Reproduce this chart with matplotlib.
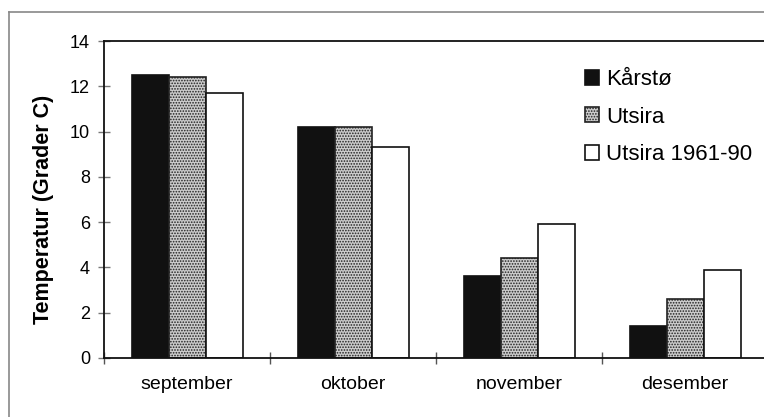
import matplotlib
matplotlib.use("Agg")
import matplotlib.pyplot as plt
from matplotlib.lines import Line2D
from matplotlib.patches import Patch
import numpy as np

plt.rcParams['font.family'] = ['Liberation Sans', 'DejaVu Sans']
plt.rcParams['hatch.linewidth'] = 0.8

categories = ["september", "oktober", "november", "desember"]
series_names = ["Kårstø", "Utsira", "Utsira 1961-90"]
karsto = [12.5, 10.2, 3.6, 1.4]
utsira = [12.4, 10.2, 4.4, 2.6]
utsira_norm = [11.7, 9.3, 5.9, 3.9]
yticks = [0, 2, 4, 6, 8, 10, 12, 14]

W, H = 764, 417
fig = plt.figure(figsize=(W / 100, H / 100), dpi=100)
ax = fig.add_axes([104 / W, (H - 358) / H, 664 / W, 317 / H])

offset = 28 / 166
bw = 37 / 166
styles = [
    dict(facecolor="#111111", edgecolor="#111111", hatch=None),
    dict(facecolor="#cccccc", edgecolor="#222222", hatch="......"),
    dict(facecolor="white", edgecolor="#111111", hatch=None),
]
data = [karsto, utsira, utsira_norm]
x0 = np.arange(len(categories))
for j, (vals, st) in enumerate(zip(data, styles)):
    xs = x0 + offset + bw * (j + 0.5)
    ax.bar(xs, vals, width=bw, facecolor=st["facecolor"], edgecolor=st["edgecolor"],
           hatch=st["hatch"], linewidth=1.2, zorder=2)

ax.set_xlim(0, 4)
ax.set_ylim(0, 14)
ax.set_yticks(yticks)
ax.set_yticklabels([str(t) for t in yticks], fontsize=13)
ax.tick_params(axis='y', direction='inout', length=8, width=1, color="#777777", pad=6)
ax.set_xticks(x0 + 0.5)
ax.set_xticklabels(categories, fontsize=14)
ax.tick_params(axis='x', which='major', length=0, pad=13)
ax.set_xticks(x0, minor=True)
ax.tick_params(axis='x', which='minor', direction='inout', length=8, width=1, color="#555555")
for s in ax.spines.values():
    s.set_linewidth(1.3)
    s.set_color("#111111")
ax.set_ylabel("Temperatur (Grader C)", fontsize=15.5, fontweight='bold')
ax.yaxis.set_label_coords(-50 / 664, 0.47)

handles = [Patch(facecolor=st["facecolor"], edgecolor=st["edgecolor"], hatch=st["hatch"],
                 linewidth=1.2) for st in styles]
ax.legend(handles, series_names, loc='upper left', bbox_to_anchor=(481 / 664, 1 - 28 / 317),
          frameon=False, fontsize=16, handlelength=0.65, handleheight=0.65,
          handletextpad=0.3, labelspacing=0.75, borderaxespad=0, borderpad=0)

# outer frame (left and top)
fig.add_artist(Line2D([9 / W, 9 / W], [0, 1 - 12 / H], transform=fig.transFigure,
                      color="#888888", lw=1.2))
fig.add_artist(Line2D([9 / W, 1], [1 - 12 / H, 1 - 12 / H], transform=fig.transFigure,
                      color="#888888", lw=1.2))

fig.savefig("out.png", dpi=100)
